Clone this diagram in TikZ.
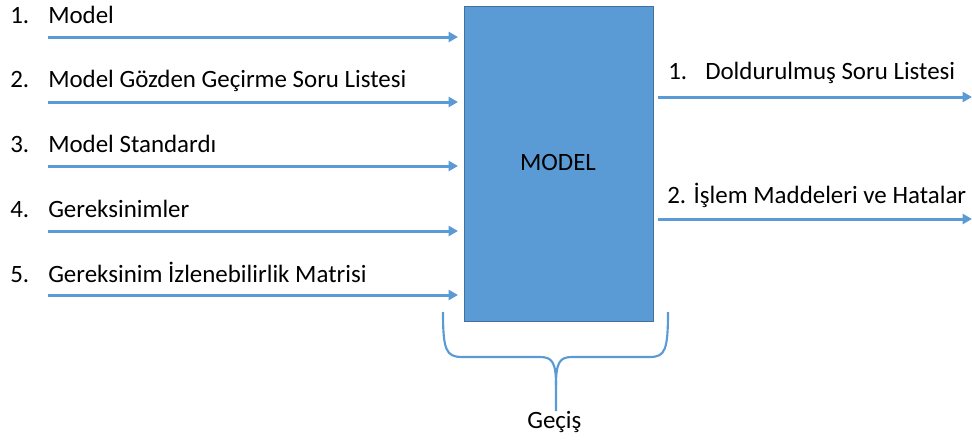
\documentclass[tikz,border=0pt]{standalone}
\usepackage{fontspec}
\setmainfont{Carlito}
\usetikzlibrary{arrows.meta}
\definecolor{flow}{HTML}{5B9BD5}
\definecolor{flowedge}{HTML}{41719C}
\tikzset{
  lbl/.style={anchor=base west, inner sep=0pt, font=\fontsize{18.7}{22}\selectfont},
  flowarrow/.style={draw=flow, line width=2.25pt, -{Triangle[length=7pt,width=7.5pt]}},
  brace/.style={draw=flow, line width=1.6pt}
}
\begin{document}
\begin{tikzpicture}[x=0.75pt,y=-0.75pt]
\useasboundingbox (0,0) rectangle (972,443);

% central process box
\node[draw=flowedge, fill=flow, line width=0.8pt, minimum width=189*0.75pt, minimum height=315*0.75pt,
      anchor=north west, inner sep=0pt] (box) at (464,6) {};
\node[lbl, anchor=base] (boxlbl) at (558,170) {MODEL};

% inputs
\foreach \i/\txt/\yb/\ya in {1/Model/23/37,
                             2/Model Gözden Geçirme Soru Listesi/87/102,
                             3/Model Standardı/152/166,
                             4/Gereksinimler/217/231,
                             5/Gereksinim İzlenebilirlik Matrisi/282/295}{
  \node[lbl] (num\i) at (10,\yb) {\i.};
  \node[lbl] (in\i) at (48,\yb) {\txt};
  \coordinate (s\i) at (48,\ya);
  \coordinate (e\i) at (458,\ya);
  \draw[flowarrow] (s\i) -- (e\i);
}

% outputs
\node[lbl] (onum1) at (668,79) {1.};
\node[lbl] (out1) at (705,79) {Doldurulmuş Soru Listesi};
\node[lbl] (out2) at (667,203) {2. İşlem Maddeleri ve Hatalar};
\coordinate (os1) at (658,97);
\coordinate (oe1) at (972,97);
\coordinate (os2) at (658,219);
\coordinate (oe2) at (972,219);
\draw[flowarrow] (os1) -- (oe1);
\draw[flowarrow] (os2) -- (oe2);

% brace under the box
\coordinate (bl) at (443,312);
\coordinate (br) at (668,312);
\coordinate (btip) at (556,411);
\draw[brace] (bl) .. controls (443,350) and (446,357) .. (462,357)
  -- (540,357) .. controls (552,357) and (556,362) .. (556,385) -- (btip);
\draw[brace] (br) .. controls (668,350) and (665,357) .. (650,357)
  -- (572,357) .. controls (560,357) and (556,362) .. (556,385);
\node[lbl] (trans) at (527,428) {Geçiş};
\end{tikzpicture}
\end{document}
